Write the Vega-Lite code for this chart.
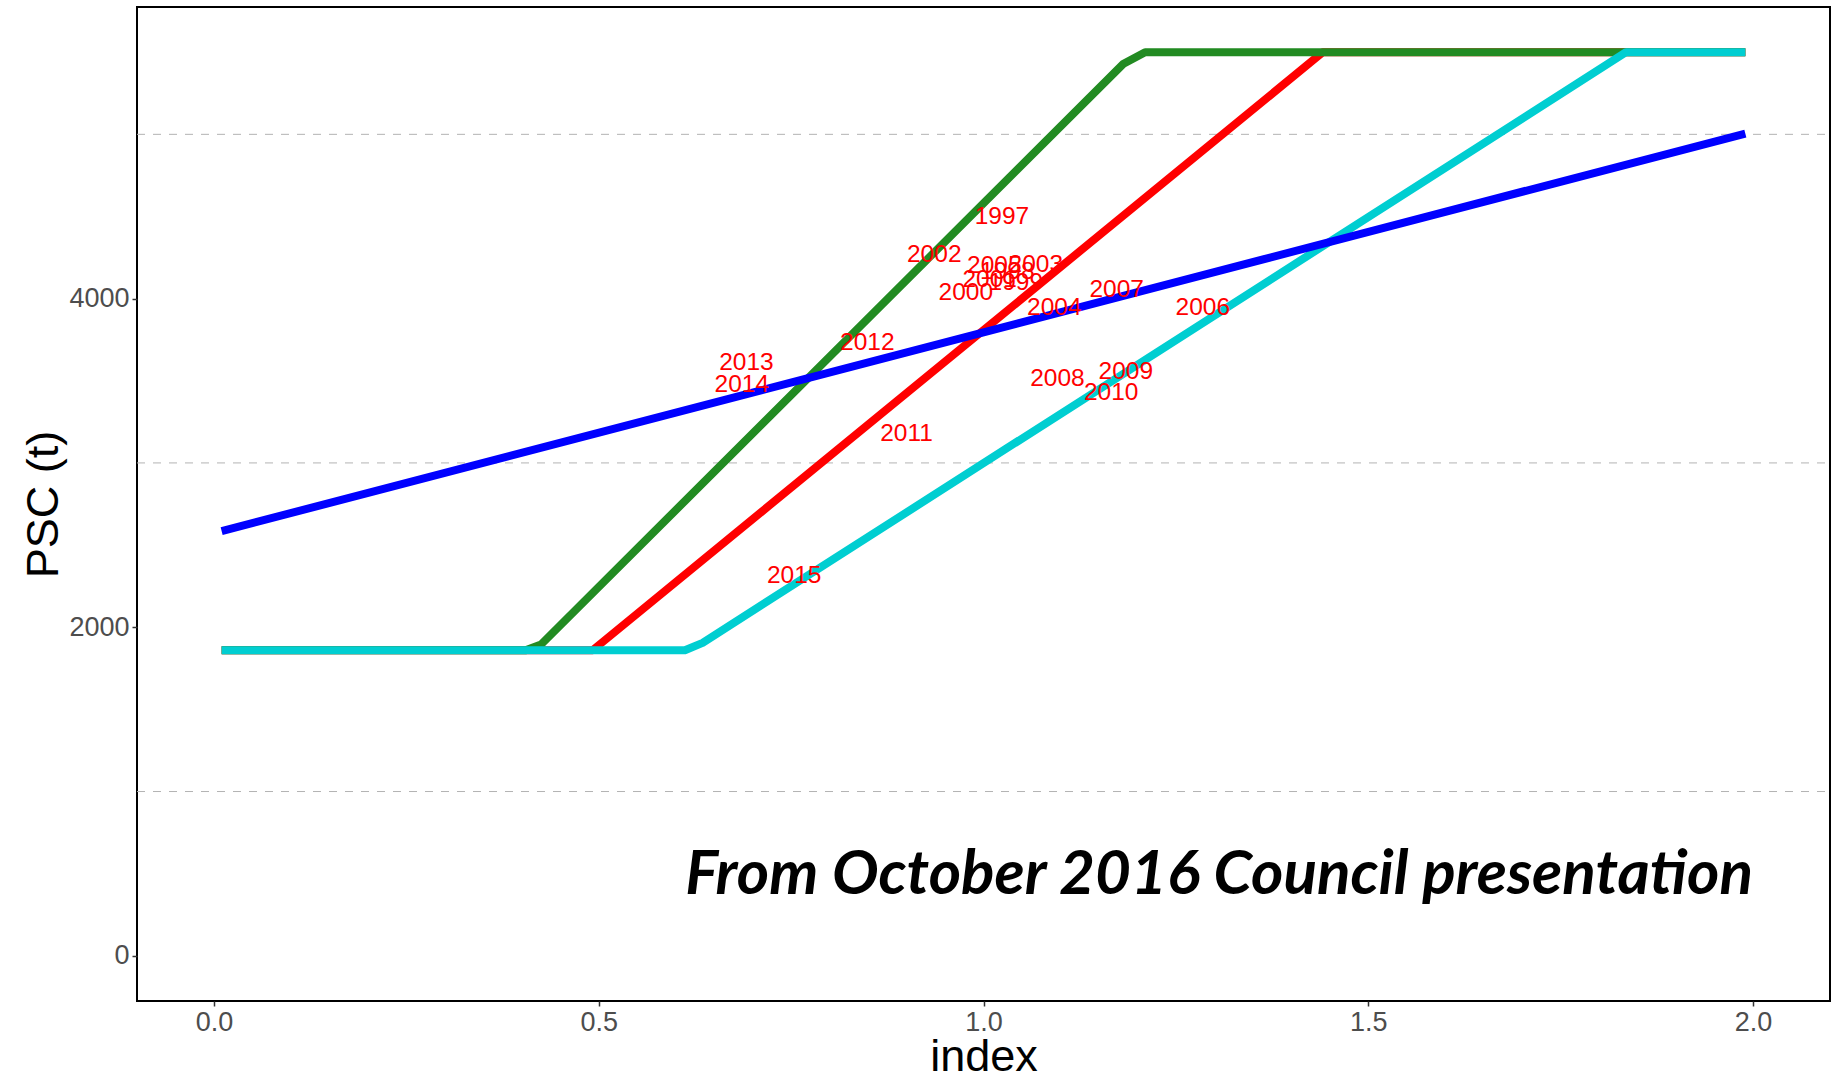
{
  "$schema": "https://vega.github.io/schema/vega-lite/v6.json",
  "autosize": {"type": "none"},
  "width": 1693,
  "height": 994,
  "padding": {"left": 137, "top": 7, "right": 14, "bottom": 76},
  "background": "white",
  "config": {
    "view": {"stroke": "black", "strokeWidth": 2},
    "axis": {
      "labelFont": "Liberation Sans",
      "labelFontSize": 27,
      "labelColor": "#4D4D4D",
      "tickColor": "#333333",
      "tickSize": 5,
      "tickWidth": 1.5,
      "labelPadding": 3,
      "domain": false,
      "grid": false,
      "titleFont": "Liberation Sans",
      "titleFontSize": 45,
      "titleFontWeight": "normal",
      "titleColor": "black"
    }
  },
  "datasets": {
    "lines": [
      {"series": "blue", "index": 0.01, "psc": 2585},
      {"series": "blue", "index": 1.0, "psc": 3795},
      {"series": "blue", "index": 1.99, "psc": 5005},
      {"series": "green", "index": 0.01, "psc": 1860},
      {"series": "green", "index": 0.405, "psc": 1860},
      {"series": "green", "index": 0.425, "psc": 1895},
      {"series": "green", "index": 1.182, "psc": 5430},
      {"series": "green", "index": 1.21, "psc": 5500},
      {"series": "green", "index": 1.99, "psc": 5500},
      {"series": "red", "index": 0.01, "psc": 1860},
      {"series": "red", "index": 0.492, "psc": 1860},
      {"series": "red", "index": 1.441, "psc": 5500},
      {"series": "red", "index": 1.99, "psc": 5500},
      {"series": "cyan", "index": 0.01, "psc": 1860},
      {"series": "cyan", "index": 0.612, "psc": 1860},
      {"series": "cyan", "index": 0.635, "psc": 1905},
      {"series": "cyan", "index": 1.835, "psc": 5500},
      {"series": "cyan", "index": 1.99, "psc": 5500}
    ],
    "labels": [
      {"year": "1997", "index": 1.024, "psc": 4498},
      {"year": "2002", "index": 0.936, "psc": 4265},
      {"year": "2005", "index": 1.014, "psc": 4198},
      {"year": "2003", "index": 1.068, "psc": 4204},
      {"year": "1998", "index": 1.031, "psc": 4163},
      {"year": "2001", "index": 1.008, "psc": 4113},
      {"year": "1999", "index": 1.042, "psc": 4094},
      {"year": "2000", "index": 0.977, "psc": 4032},
      {"year": "2004", "index": 1.092, "psc": 3940},
      {"year": "2007", "index": 1.173, "psc": 4052},
      {"year": "2006", "index": 1.285, "psc": 3940},
      {"year": "2008", "index": 1.096, "psc": 3508},
      {"year": "2009", "index": 1.185, "psc": 3554},
      {"year": "2010", "index": 1.166, "psc": 3423},
      {"year": "2011", "index": 0.9, "psc": 3175},
      {"year": "2012", "index": 0.849, "psc": 3731},
      {"year": "2013", "index": 0.692, "psc": 3609},
      {"year": "2014", "index": 0.686, "psc": 3473},
      {"year": "2015", "index": 0.754, "psc": 2309}
    ],
    "grid": [{"psc": 1000}, {"psc": 3000}, {"psc": 5000}],
    "note": [{"text": "From October 2016 Council presentation", "index": 2.0, "psc": 490}]
  },
  "encoding": {
    "x": {
      "field": "index", "type": "quantitative",
      "scale": {"domain": [-0.1, 2.1], "nice": false, "zero": false},
      "axis": {"values": [0, 0.5, 1, 1.5, 2], "format": ".1f", "title": "index", "titlePadding": -1}
    },
    "y": {
      "field": "psc", "type": "quantitative",
      "scale": {"domain": [-275, 5775], "nice": false, "zero": false},
      "axis": {"values": [0, 2000, 4000], "format": "d", "title": "PSC (t)", "titlePadding": 2}
    }
  },
  "layer": [
    {
      "data": {"name": "grid"},
      "mark": {"type": "rule", "color": "#B3B3B3", "strokeWidth": 1, "strokeDash": [8, 8]},
      "encoding": {"x": {"value": 0}, "x2": {"value": 1693}, "y": {"field": "psc", "type": "quantitative"}}
    },
    {
      "data": {"name": "lines"},
      "transform": [{"filter": "datum.series === 'red'"}],
      "mark": {"type": "line", "color": "#FF0000", "strokeWidth": 8, "strokeCap": "butt", "strokeJoin": "round"},
      "encoding": {}
    },
    {
      "data": {"name": "lines"},
      "transform": [{"filter": "datum.series === 'green'"}],
      "mark": {"type": "line", "color": "#228B22", "strokeWidth": 8, "strokeCap": "butt", "strokeJoin": "round"},
      "encoding": {}
    },
    {
      "data": {"name": "lines"},
      "transform": [{"filter": "datum.series === 'cyan'"}],
      "mark": {"type": "line", "color": "#00CED1", "strokeWidth": 8, "strokeCap": "butt", "strokeJoin": "round"},
      "encoding": {}
    },
    {
      "data": {"name": "lines"},
      "transform": [{"filter": "datum.series === 'blue'"}],
      "mark": {"type": "line", "color": "#0000FF", "strokeWidth": 8, "strokeCap": "butt", "strokeJoin": "round"},
      "encoding": {}
    },
    {
      "data": {"name": "labels"},
      "mark": {"type": "text", "color": "#FF0000", "font": "Liberation Sans", "fontSize": 24.5, "align": "center", "baseline": "middle"},
      "encoding": {"text": {"field": "year"}}
    },
    {
      "data": {"name": "note"},
      "mark": {"type": "text", "color": "black", "font": "Lato", "fontSize": 62, "fontWeight": "bold", "fontStyle": "italic", "align": "right", "baseline": "middle"},
      "encoding": {"text": {"field": "text"}}
    }
  ]
}
